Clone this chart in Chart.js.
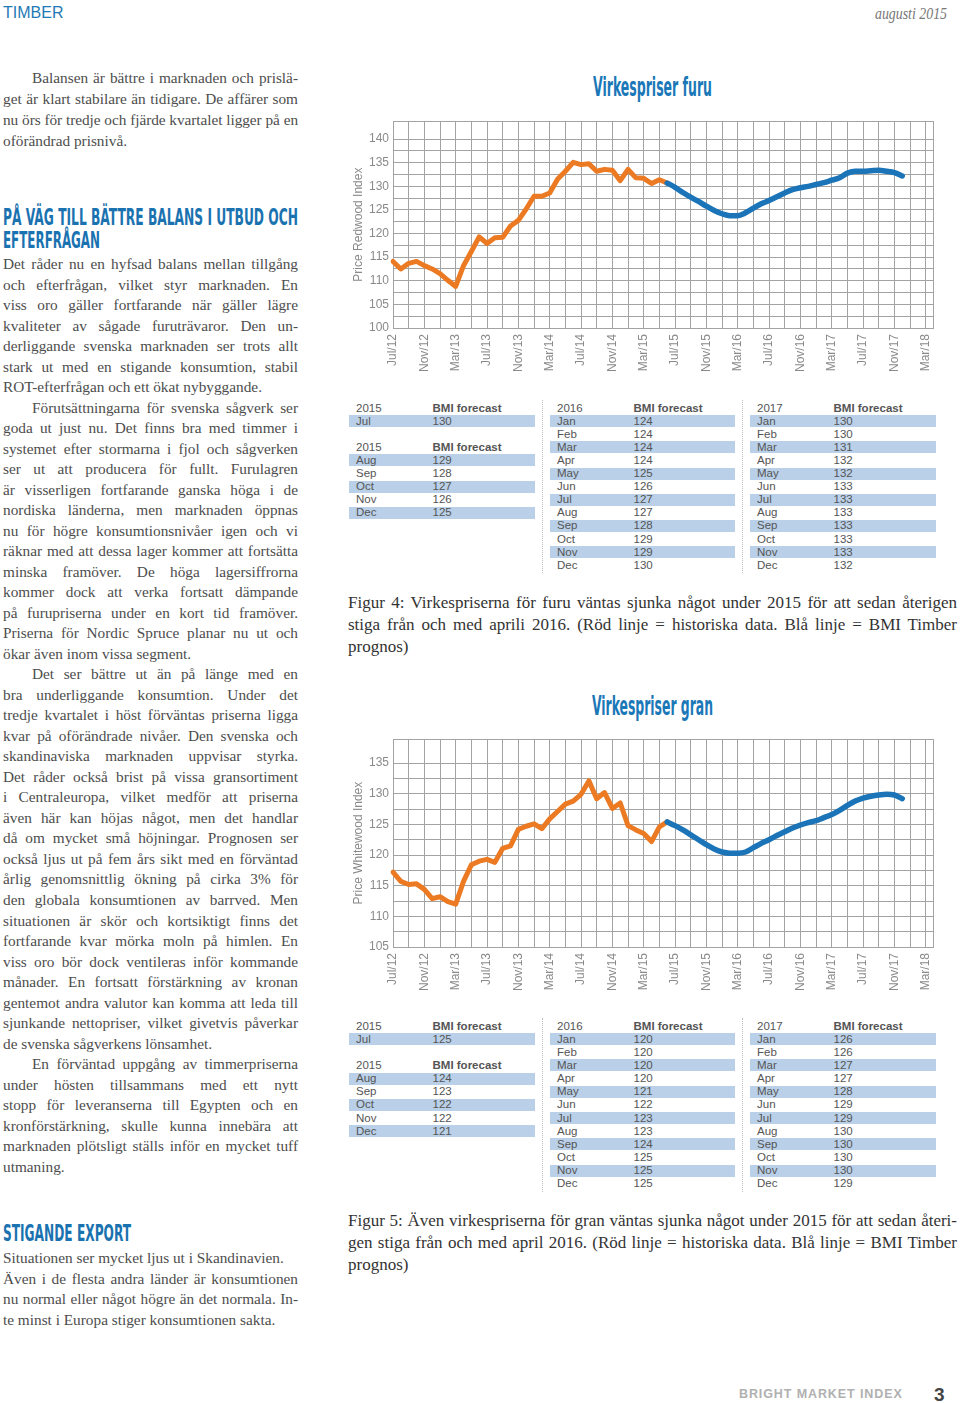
<!DOCTYPE html>
<html lang="sv">
<head>
<meta charset="utf-8">
<title>Virkespriser furu och gran</title>
<script src="https://cdn.jsdelivr.net/npm/chart.js@4.4.1/dist/chart.umd.min.js"></script>
<style>
  html, body { margin: 0; padding: 0; background: #fff; }
  body { position: relative; width: 960px; height: 1403px; overflow: hidden; }
  .abs { position: absolute; }
  .hdr { font: 16px 'Liberation Sans', Arial, sans-serif; color: #1f7ab5; left: 3px; top: 4px; }
  .date { font: italic 16px 'Liberation Serif', serif; color: #777; left: 875px; top: 5px; }
  .txt { position: absolute; left: 3px; width: 295px; font: 15.3px/20.52px 'Liberation Serif', 'Times New Roman', serif; color: #4d4d4d; }
  .txt div { white-space: nowrap; }
  .j { text-align: justify; text-align-last: justify; }
  .i { text-indent: 29px; }
  .cap { position: absolute; left: 348px; width: 609px; font: 17px/22px 'Liberation Serif', serif; color: #333; }
  .cap div { white-space: nowrap; }
  .fit { display: inline-block; white-space: nowrap; transform-origin: 0 0; }
  .head { position: absolute; left: 3px; font: bold 22.5px/22.5px 'DejaVu Sans Condensed', 'DejaVu Sans', sans-serif; color: #1a72b0; }
  .ctitle { position: absolute; font: bold 26px/26px 'DejaVu Sans Condensed', 'DejaVu Sans', sans-serif; color: #1b78b8; }
  .cell { position: absolute; font: 11.5px/13px 'Liberation Sans', Arial, sans-serif; color: #555; white-space: nowrap; }
  .bar { position: absolute; background: #b9d0e8; height: 12px; }
  .sep { position: absolute; width: 0; border-left: 1.5px dotted #bdbdbd; }
  canvas { position: absolute; }
  .foot { font: bold 12.5px 'Liberation Sans', Arial, sans-serif; color: #b0b0b0; letter-spacing: 0.9px; left: 739px; top: 1387px; }
  .pg { font: bold 19px 'Liberation Sans', Arial, sans-serif; color: #444; left: 934px; top: 1384px; }
</style>
</head>
<body>

<div class="abs hdr">TIMBER</div>
<div class="abs date"><span class="fit" data-w="72">augusti 2015</span></div>

<div class="txt" style="top:67px; line-height:21px">
  <div class="j i">Balansen är bättre i marknaden och prislä-</div>
  <div class="j">get är klart stabilare än tidigare. De affärer som</div>
  <div class="j">nu örs för tredje och fjärde kvartalet ligger på en</div>
  <div>oförändrad prisnivå.</div>
</div>

<div class="head" style="top:206px"><span class="fit" data-w="295">PÅ VÄG TILL BÄTTRE BALANS I UTBUD OCH</span></div>
<div class="head" style="top:229px"><span class="fit" data-w="97">EFTERFRÅGAN</span></div>

<div class="txt" style="top:254px">
  <div class="j">Det råder nu en hyfsad balans mellan tillgång</div>
  <div class="j">och efterfrågan, vilket styr marknaden. En</div>
  <div class="j">viss oro gäller fortfarande när gäller lägre</div>
  <div class="j">kvaliteter av sågade furuträvaror. Den un-</div>
  <div class="j">derliggande svenska marknaden ser trots allt</div>
  <div class="j">stark ut med en stigande konsumtion, stabil</div>
  <div>ROT-efterfrågan och ett ökat nybyggande.</div>
  <div class="j i">Förutsättningarna för svenska sågverk ser</div>
  <div class="j">goda ut just nu. Det finns bra med timmer i</div>
  <div class="j">systemet efter stormarna i fjol och sågverken</div>
  <div class="j">ser ut att producera för fullt. Furulagren</div>
  <div class="j">är visserligen fortfarande ganska höga i de</div>
  <div class="j">nordiska länderna, men marknaden öppnas</div>
  <div class="j">nu för högre konsumtionsnivåer igen och vi</div>
  <div class="j">räknar med att dessa lager kommer att fortsätta</div>
  <div class="j">minska framöver. De höga lagersiffrorna</div>
  <div class="j">kommer dock att verka fortsatt dämpande</div>
  <div class="j">på furupriserna under en kort tid framöver.</div>
  <div class="j">Priserna för Nordic Spruce planar nu ut och</div>
  <div>ökar även inom vissa segment.</div>
  <div class="j i">Det ser bättre ut än på länge med en</div>
  <div class="j">bra underliggande konsumtion. Under det</div>
  <div class="j">tredje kvartalet i höst förväntas priserna ligga</div>
  <div class="j">kvar på oförändrade nivåer. Den svenska och</div>
  <div class="j">skandinaviska marknaden uppvisar styrka.</div>
  <div class="j">Det råder också brist på vissa gransortiment</div>
  <div class="j">i Centraleuropa, vilket medför att priserna</div>
  <div class="j">även här kan höjas något, men det handlar</div>
  <div class="j">då om mycket små höjningar. Prognosen ser</div>
  <div class="j">också ljus ut på fem års sikt med en förväntad</div>
  <div class="j">årlig genomsnittlig ökning på cirka 3% för</div>
  <div class="j">den globala konsumtionen av barrved. Men</div>
  <div class="j">situationen är skör och kortsiktigt finns det</div>
  <div class="j">fortfarande kvar mörka moln på himlen. En</div>
  <div class="j">viss oro bör dock ventileras inför kommande</div>
  <div class="j">månader. En fortsatt förstärkning av kronan</div>
  <div class="j">gentemot andra valutor kan komma att leda till</div>
  <div class="j">sjunkande nettopriser, vilket givetvis påverkar</div>
  <div>de svenska sågverkens lönsamhet.</div>
  <div class="j i">En förväntad uppgång av timmerpriserna</div>
  <div class="j">under hösten tillsammans med ett nytt</div>
  <div class="j">stopp för leveranserna till Egypten och en</div>
  <div class="j">kronförstärkning, skulle kunna innebära att</div>
  <div class="j">marknaden plötsligt ställs inför en mycket tuff</div>
  <div>utmaning.</div>
</div>

<div class="head" style="top:1222px"><span class="fit" data-w="128">STIGANDE EXPORT</span></div>
<div class="txt" style="top:1248px">
  <div>Situationen ser mycket ljus ut i Skandinavien.</div>
  <div class="j">Även i de flesta andra länder är konsumtionen</div>
  <div class="j">nu normal eller något högre än det normala. In-</div>
  <div>te minst i Europa stiger konsumtionen sakta.</div>
</div>

<!-- chart 1 -->
<div class="ctitle" style="left:593px; top:74px"><span class="fit" data-w="119">Virkespriser furu</span></div>
<canvas id="furu" width="609" height="266" style="left:345px; top:110px; width:609px; height:266px"></canvas>
<div id="tab1"></div>

<div class="cap" style="top:592px">
  <div class="j">Figur 4: Virkespriserna för furu väntas sjunka något under 2015 för att sedan återigen</div>
  <div class="j">stiga från och med aprili 2016. (Röd linje = historiska data. Blå linje = BMI Timber</div>
  <div>prognos)</div>
</div>

<!-- chart 2 -->
<div class="ctitle" style="left:592px; top:693px"><span class="fit" data-w="121">Virkespriser gran</span></div>
<canvas id="gran" width="609" height="267" style="left:345px; top:728px; width:609px; height:267px"></canvas>
<div id="tab2"></div>

<div class="cap" style="top:1210px">
  <div class="j">Figur 5: Även virkespriserna för gran väntas sjunka något under 2015 för att sedan återi-</div>
  <div class="j">gen stiga från och med april 2016. (Röd linje = historiska data. Blå linje = BMI Timber</div>
  <div>prognos)</div>
</div>

<div class="abs foot">BRIGHT MARKET INDEX</div>
<div class="abs pg">3</div>

<script>
// months on the x axis, Jul/12 .. Apr/18
const months = [
  "Jul/12","Aug/12","Sep/12","Oct/12","Nov/12","Dec/12",
  "Jan/13","Feb/13","Mar/13","Apr/13","May/13","Jun/13","Jul/13","Aug/13","Sep/13","Oct/13","Nov/13","Dec/13",
  "Jan/14","Feb/14","Mar/14","Apr/14","May/14","Jun/14","Jul/14","Aug/14","Sep/14","Oct/14","Nov/14","Dec/14",
  "Jan/15","Feb/15","Mar/15","Apr/15","May/15","Jun/15","Jul/15","Aug/15","Sep/15","Oct/15","Nov/15","Dec/15",
  "Jan/16","Feb/16","Mar/16","Apr/16","May/16","Jun/16","Jul/16","Aug/16","Sep/16","Oct/16","Nov/16","Dec/16",
  "Jan/17","Feb/17","Mar/17","Apr/17","May/17","Jun/17","Jul/17","Aug/17","Sep/17","Oct/17","Nov/17","Dec/17",
  "Jan/18","Feb/18","Mar/18","Apr/18"
];

// historical index, Jul/12 .. Jun/15
const furuHistory = [114.1,112.5,113.7,114.1,113.2,112.5,111.5,110.1,108.8,113.2,116.2,119.3,
  117.9,119.1,119.2,121.6,122.8,125.2,127.9,127.9,128.6,131.5,133.2,135.1,
  134.6,134.8,133.2,133.6,133.4,131.2,133.6,131.8,131.7,130.6,131.4,130.7];
// BMI forecast, Jun/15 .. Dec/17
const furuForecast = [130.7,129.8,128.7,127.7,126.8,125.8,124.9,124.2,123.8,123.8,124.4,125.4,
  126.3,127.0,127.8,128.6,129.3,129.7,130.0,130.4,130.8,131.3,131.8,132.8,
  133.2,133.2,133.3,133.4,133.2,132.9,132.2];

const granHistory = [117.2,115.7,115.2,115.3,114.4,112.9,113.2,112.4,112.0,115.7,118.4,119.0,
  119.3,118.8,121.1,121.5,124.2,124.7,125.1,124.3,125.9,127.1,128.3,128.8,
  129.9,132.1,129.2,130.2,127.6,128.5,124.8,124.1,123.5,122.2,124.6,125.4];
const granForecast = [125.4,124.8,124.1,123.3,122.5,121.7,121.0,120.5,120.3,120.3,120.5,121.2,
  121.9,122.5,123.2,123.8,124.4,124.9,125.3,125.6,126.1,126.6,127.3,128.1,
  128.8,129.3,129.6,129.8,129.9,129.8,129.2];

const forecastStart = 35; // Jun/15

// forecast tables
const monthNames = ["Jan","Feb","Mar","Apr","May","Jun","Jul","Aug","Sep","Oct","Nov","Dec"];
const furuTab2015Jul = 130;
const furuTab2015 = [129,128,127,126,125];           // Aug..Dec
const furuTab2016 = [124,124,124,124,125,126,127,127,128,129,129,130];
const furuTab2017 = [130,130,131,132,132,133,133,133,133,133,133,132];
const granTab2015Jul = 125;
const granTab2015 = [124,123,122,122,121];
const granTab2016 = [120,120,120,120,121,122,123,123,124,125,125,125];
const granTab2017 = [126,126,127,127,128,129,129,130,130,130,130,129];

const ORANGE = "#ec7a23";
const BLUE = "#1b74b8";
const GRID = "#a3a3a3";
const LABEL = "#8a8a8a";
const FONT = "'Liberation Sans', Arial, sans-serif";

function pad(values, start) {
  const out = new Array(months.length).fill(null);
  values.forEach((v, i) => { out[start + i] = v; });
  return out;
}

function lineChart(id, title, hist, fc, yMin, yMax) {
  return new Chart(document.getElementById(id), {
    type: "line",
    data: {
      labels: months,
      datasets: [
        { data: pad(fc, forecastStart), borderColor: BLUE, borderWidth: 5.5, tension: 0.4,
          cubicInterpolationMode: "monotone", pointRadius: 0, borderCapStyle: "round", borderJoinStyle: "round" },
        { data: pad(hist, 0), borderColor: ORANGE, borderWidth: 5, tension: 0,
          pointRadius: 0, borderCapStyle: "round", borderJoinStyle: "round" }
      ]
    },
    options: {
      responsive: false,
      animation: false,
      devicePixelRatio: 1,
      layout: { padding: { top: 8, right: 13, left: 0, bottom: 0 } },
      plugins: { legend: { display: false }, tooltip: { enabled: false } },
      scales: {
        x: {
          type: "category",
          offset: false,
          afterFit: s => { s.height = 48; },
          grid: {
            drawTicks: false,
            color: c => (c.index % 2 === 0 || c.index === months.length - 1) ? GRID : "rgba(0,0,0,0)"
          },
          border: { color: GRID },
          ticks: {
            autoSkip: false, maxRotation: 90, minRotation: 90, padding: 6,
            color: LABEL, font: { family: FONT, size: 12 },
            callback: (v, i) => (i % 4 === 0 ? months[i] : "")
          }
        },
        y: {
          min: yMin, max: yMax,
          afterFit: s => { s.width = 48; },
          grid: { drawTicks: false, color: GRID },
          border: { color: GRID },
          title: { display: true, text: title, color: LABEL, padding: { top: 6, bottom: 0 },
            font: { family: FONT, size: 12 } },
          ticks: {
            autoSkip: false, includeBounds: true,
            stepSize: 2.5, padding: 4, color: LABEL,
            font: { family: FONT, size: 12 },
            callback: v => (Math.abs(v % 5) < 1e-6 ? v : "")
          }
        }
      }
    }
  });
}

lineChart("furu", "Price Redwood Index", furuHistory, furuForecast, 100, 143.8);
lineChart("gran", "Price Whitewood Index", granHistory, granForecast, 105, 138.9);

// tables
function addCell(parent, x, y, text, bold) {
  const d = document.createElement("div");
  d.className = "cell";
  d.style.left = x + "px";
  d.style.top = (y - 6.5) + "px";
  if (bold) d.style.fontWeight = "bold";
  d.textContent = text;
  parent.appendChild(d);
}
function addBar(parent, x, y, w) {
  const d = document.createElement("div");
  d.className = "bar";
  d.style.left = x + "px";
  d.style.top = (y - 6) + "px";
  d.style.width = w + "px";
  parent.appendChild(d);
}
function group(parent, x, w, y0, rowH, rows) {
  // rows: ["H", year] header, [label, value, highlighted], or null for a gap
  rows.forEach((r, i) => {
    const y = y0 + i * rowH;
    if (r === null) return;
    if (r[0] === "H") { addCell(parent, x + 7.5, y, r[1]); addCell(parent, x + 84, y, "BMI forecast", true); return; }
    if (r[2]) addBar(parent, x, y, w);
    addCell(parent, x + 7.5, y, r[0]);
    addCell(parent, x + 84, y, String(r[1]));
  });
}
function table(id, y0, rowH, julVal, t15, t16, t17) {
  const el = document.getElementById(id);
  const g1 = [["H", "2015"], ["Jul", julVal, true], null, ["H", "2015"]];
  t15.forEach((v, i) => g1.push([monthNames[7 + i], v, i % 2 === 0]));
  group(el, 348.5, 186, y0, rowH, g1);
  const g2 = [["H", "2016"]];
  t16.forEach((v, i) => g2.push([monthNames[i], v, i % 2 === 0]));
  group(el, 549.5, 185.5, y0, rowH, g2);
  const g3 = [["H", "2017"]];
  t17.forEach((v, i) => g3.push([monthNames[i], v, i % 2 === 0]));
  group(el, 749.5, 186.5, y0, rowH, g3);
  [541.5, 741.5].forEach(x => {
    const s = document.createElement("div");
    s.className = "sep";
    s.style.left = x + "px";
    s.style.top = (y0 - 8) + "px";
    s.style.height = (rowH * 12 + 16) + "px";
    el.appendChild(s);
  });
}
table("tab1", 408, 13.1, furuTab2015Jul, furuTab2015, furuTab2016, furuTab2017);
table("tab2", 1026, 13.15, granTab2015Jul, granTab2015, granTab2016, granTab2017);

// fit condensed headings to their printed width
document.querySelectorAll(".fit").forEach(s => {
  const w = s.getBoundingClientRect().width;
  s.style.transform = "scaleX(" + (parseFloat(s.dataset.w) / w) + ")";
});
// tighten justified lines that are too long for their column
document.querySelectorAll(".j").forEach(el => {
  const avail = el.clientWidth - (el.classList.contains("i") ? 29 : 0);
  const span = document.createElement("span");
  while (el.firstChild) span.appendChild(el.firstChild);
  el.appendChild(span);
  el.style.textAlign = "left";
  el.style.textAlignLast = "left";
  const w = span.getBoundingClientRect().width;
  if (w > avail) el.style.letterSpacing = ((avail - w) / span.textContent.length - 0.02) + "px";
  el.style.textAlign = "";
  el.style.textAlignLast = "";
});
</script>
</body>
</html>
